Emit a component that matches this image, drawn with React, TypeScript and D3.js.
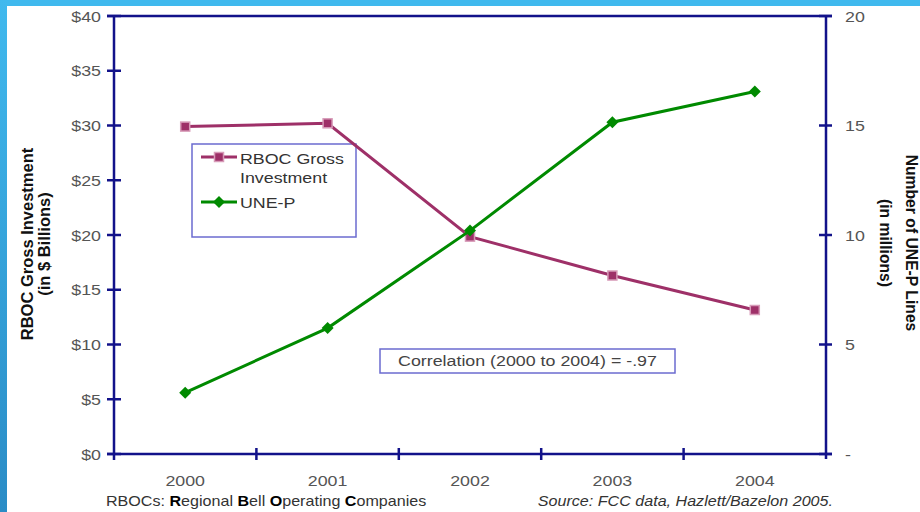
import React from 'react';
import * as d3 from 'd3';

const years = ['2000', '2001', '2002', '2003', '2004'];
const rbocInvestment = [29.9, 30.2, 19.85, 16.3, 13.15];
const unepLines = [2.8, 5.75, 10.2, 15.15, 16.55];
const leftTicks = [0, 5, 10, 15, 20, 25, 30, 35, 40];
const rightTicks = [0, 5, 10, 15, 20];
const rightTickLabels = ['-', '5', '10', '15', '20'];
const seriesNames = ['RBOC Gross', 'Investment', 'UNE-P'];

const W = 920;
const H = 512;
const AX = '#12128a';
const GRAY = '#555';
const RB = '#9e3068';
const GR = '#008a00';
const SX = 1.15;
const FONT = '"Liberation Sans", Arial, sans-serif';

function T(props: any) {
  const { x, y, children, anchor = 'start', size = 15.5, sx = SX, fill = GRAY, weight = 'normal', italic = false } = props;
  return (
    <text
      transform={`translate(${x},${y}) scale(${sx},1)`}
      textAnchor={anchor}
      fontSize={size}
      fontFamily={FONT}
      fill={fill}
      fontWeight={weight}
      fontStyle={italic ? 'italic' : 'normal'}
    >
      {children}
    </text>
  );
}

export default function App() {
  const x = d3.scaleBand<string>().domain(years).range([114, 826]).padding(0);
  const yl = d3.scaleLinear().domain([0, 40]).range([454, 16]);
  const yr = d3.scaleLinear().domain([0, 20]).range([454, 16]);
  const cx = (d: string) => (x(d) as number) + x.bandwidth() / 2;

  const rbocLine = d3.line<number>().x((_, i) => cx(years[i])).y((v) => yl(v));
  const unepLine = d3.line<number>().x((_, i) => cx(years[i])).y((v) => yr(v));

  const x0 = x.range()[0];
  const x1 = x.range()[1];
  const yBottom = yl(0);
  const yTop = yl(40);
  const boundaries = years.slice(1).map((d) => x(d) as number);

  const square = (px: number, py: number, key: any) => (
    <rect key={key} x={px - 4.5} y={py - 4.5} width={9} height={9} fill={RB} stroke="#d79bb8" strokeWidth={1.5} />
  );
  const diamond = (px: number, py: number, key: any) => (
    <path key={key} d={`M${px},${py - 6}L${px + 6},${py}L${px},${py + 6}L${px - 6},${py}Z`} fill={GR} />
  );

  return (
    <svg width={W} height={H} style={{ position: 'absolute', left: 0, top: 0, background: '#fff' }}>
      <defs>
        <linearGradient id="lb" x1="0" y1="0" x2="0" y2="1">
          <stop offset="0" stopColor="#40b9ee" />
          <stop offset="1" stopColor="#2a8cc6" />
        </linearGradient>
      </defs>
      <rect x={0} y={0} width={W} height={H} fill="#fff" />
      <rect x={0} y={0} width={W} height={6} fill="#40b9ee" />
      <rect x={0} y={0} width={7} height={H} fill="url(#lb)" />

      {/* legend box */}
      <rect x={192} y={144} width={164} height={93} fill="#fff" stroke="#6b6bcf" strokeWidth={1.5} />
      <line x1={201} x2={237} y1={157} y2={157} stroke={RB} strokeWidth={3} />
      {square(219, 157, 'ls')}
      <T x={240} y={164} fill="#333">{seriesNames[0]}</T>
      <T x={240} y={183} fill="#333">{seriesNames[1]}</T>
      <line x1={201} x2={237} y1={202} y2={202} stroke={GR} strokeWidth={3} />
      {diamond(219, 202, 'ld')}
      <T x={240} y={208} fill="#333">{seriesNames[2]}</T>

      {/* correlation box */}
      <rect x={380} y={349} width={295} height={24} fill="#fff" stroke="#6b6bcf" strokeWidth={1.5} />
      <T x={527.5} y={366} anchor="middle" fill="#444">Correlation (2000 to 2004) = -.97</T>

      {/* axes frame */}
      <g stroke={AX} strokeWidth={2.5} fill="none">
        <line x1={x0} x2={x0} y1={yTop} y2={yBottom + 6} />
        <line x1={x1} x2={x1} y1={yTop} y2={yBottom + 5} />
        <line x1={x0 - 7} x2={x1 + 6} y1={yTop} y2={yTop} />
        <line x1={x0 - 7} x2={x1 + 6} y1={yBottom} y2={yBottom} />
        {leftTicks.map((t) => (
          <line key={'lt' + t} x1={x0 - 7} x2={x0 + 7} y1={yl(t)} y2={yl(t)} />
        ))}
        {rightTicks.map((t) => (
          <line key={'rt' + t} x1={x1 - 7} x2={x1 + 6} y1={yr(t)} y2={yr(t)} />
        ))}
        {boundaries.map((b, i) => (
          <line key={'bt' + i} x1={b} x2={b} y1={yBottom - 6} y2={yBottom + 6} />
        ))}
      </g>

      {leftTicks.map((t) => (
        <T key={'ll' + t} x={101} y={yl(t) + 5.5} anchor="end">{'$' + t}</T>
      ))}
      {rightTicks.map((t, i) => (
        <T key={'rl' + t} x={845} y={yr(t) + 5.5}>{rightTickLabels[i]}</T>
      ))}
      {years.map((d) => (
        <T key={'xl' + d} x={cx(d)} y={486} anchor="middle">{d}</T>
      ))}

      {/* axis titles */}
      <g transform="translate(33,244) rotate(-90)">
        <text x={0} y={0} textAnchor="middle" fontSize={16.5} fontWeight="bold" fontFamily={FONT} fill="#111">RBOC Gross Investment</text>
        <text x={0} y={17} textAnchor="middle" fontSize={16.5} fontWeight="bold" fontFamily={FONT} fill="#111">(in $ Billions)</text>
      </g>
      <g transform="translate(906,243) rotate(90)">
        <text x={0} y={0} textAnchor="middle" fontSize={15.7} fontWeight="bold" fontFamily={FONT} fill="#111">Number of UNE-P Lines</text>
        <text x={0} y={26} textAnchor="middle" fontSize={15.7} fontWeight="bold" fontFamily={FONT} fill="#111">(in millions)</text>
      </g>

      {/* series */}
      <path d={rbocLine(rbocInvestment) as string} fill="none" stroke={RB} strokeWidth={3} />
      {rbocInvestment.map((v, i) => square(cx(years[i]), yl(v), 'rs' + i))}
      <path d={unepLine(unepLines) as string} fill="none" stroke={GR} strokeWidth={3} />
      {unepLines.map((v, i) => diamond(cx(years[i]), yr(v), 'ud' + i))}

      {/* footer */}
      <text transform={`translate(106,506) scale(${SX},1)`} fontSize={14} fontFamily={FONT} fill="#333">
        RBOCs: <tspan fontWeight="bold" fill="#000">R</tspan>egional <tspan fontWeight="bold" fill="#000">B</tspan>ell{' '}
        <tspan fontWeight="bold" fill="#000">O</tspan>perating <tspan fontWeight="bold" fill="#000">C</tspan>ompanies
      </text>
      <T x={833} y={506} anchor="end" size={14} fill="#333" italic>Source: FCC data, Hazlett/Bazelon 2005.</T>
    </svg>
  );
}
